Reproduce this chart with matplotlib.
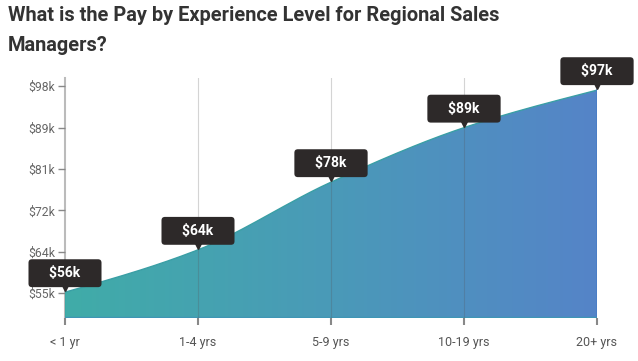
import matplotlib
matplotlib.use('Agg')
import matplotlib.pyplot as plt
import matplotlib.transforms as mtransforms
import numpy as np
from matplotlib.colors import LinearSegmentedColormap

# data
categories = ['< 1 yr', '1-4 yrs', '5-9 yrs', '10-19 yrs', '20+ yrs']
pay_k = [55.6, 64.3, 78.2, 89.4, 97.1]
pay_labels = ['$56k', '$64k', '$78k', '$89k', '$97k']
ytick_vals = [55.4, 63.9, 72.4, 80.9, 89.4, 97.9]
ytick_labels = ['$55k', '$64k', '$72k', '$81k', '$89k', '$98k']

plt.rcParams['font.family'] = ['Roboto', 'DejaVu Sans']


def monotone_curve(x, y, n=40):
    # monotone cubic (Fritsch-Carlson), like d3.curveMonotoneX
    x = np.asarray(x, float)
    y = np.asarray(y, float)
    h = np.diff(x)
    d = np.diff(y) / h
    m = np.zeros_like(y)
    for i in range(1, len(y) - 1):
        if d[i - 1] * d[i] > 0:
            m[i] = (h[i - 1] + h[i]) * 3 / ((2 * h[i] + h[i - 1]) / d[i - 1] + (h[i] + 2 * h[i - 1]) / d[i])
    m[0] = (3 * d[0] - m[1]) / 2
    m[-1] = (3 * d[-1] - m[-2]) / 2
    xs, ys = [], []
    for i in range(len(x) - 1):
        t = np.linspace(0, 1, n)
        h00 = 2 * t**3 - 3 * t**2 + 1
        h10 = t**3 - 2 * t**2 + t
        h01 = -2 * t**3 + 3 * t**2
        h11 = t**3 - t**2
        xs.append(x[i] + t * h[i])
        ys.append(h00 * y[i] + h10 * h[i] * m[i] + h01 * y[i + 1] + h11 * h[i] * m[i + 1])
    return np.concatenate(xs), np.concatenate(ys)


xpos = np.arange(len(categories))
xs, ys = monotone_curve(xpos, pay_k)

fig = plt.figure(figsize=(6.38, 3.61), dpi=100)
ax = fig.add_axes([65 / 638, 1 - 318 / 361, 532 / 638, 240 / 361])
ymin, ymax = 50.3, 99.6
ax.set_xlim(0, 4)
ax.set_ylim(ymin, ymax)

# gradient fill clipped to the area under the curve
cmap = LinearSegmentedColormap.from_list('pay', ['#40aca8', '#4a9ab8', '#5584c8'])
grad = np.linspace(0, 1, 256).reshape(1, -1)
im = ax.imshow(grad, cmap=cmap, aspect='auto', extent=[0, 4, ymin, ymax], zorder=1)
poly = ax.fill_between(xs, ys, ymin, color='none', lw=0)
im.set_clip_path(poly.get_paths()[0], transform=ax.transData)

ax.plot(xs, ys, color='#3a9fa5', lw=1.0, zorder=2)
ax.plot([0, 0], [ymin, pay_k[0]], color='#3aa6a4', lw=1.2, zorder=2)
ax.plot([4, 4], [ymin, pay_k[-1]], color='#4a7ec8', lw=1.2, zorder=2)
ax.plot([0, 4], [ymin + 0.15, ymin + 0.15], color='#3f96b5', lw=1.0, zorder=2)

for xv in xpos[1:]:
    ax.axvline(xv, color='#555555', alpha=0.25, lw=0.8, zorder=3)

for s in ['top', 'right', 'bottom']:
    ax.spines[s].set_visible(False)
ax.spines['left'].set_color('#bbbbbb')
ax.spines['left'].set_linewidth(1.5)
ax.spines['left'].set_zorder(0)

ax.set_yticks(ytick_vals)
ax.set_yticklabels(ytick_labels)
ax.set_xticks(xpos)
ax.set_xticklabels(categories)
ax.tick_params(axis='y', length=5, width=1, color='#888888', labelsize=8.8, labelcolor='#666666', pad=2)
ax.tick_params(axis='x', length=5, width=1.5, color='#888888', labelsize=9, labelcolor='#555555', pad=8)

# value callouts
pointer = ax.transData + mtransforms.ScaledTranslation(0, 5 / 100, fig.dpi_scale_trans)
for xv, yv, lab in zip(xpos, pay_k, pay_labels):
    ax.annotate('    ' + lab + '    ', (xv, yv), xytext=(0, 19), textcoords='offset pixels',
                ha='center', va='center', color='white', fontsize=10, fontweight='bold', zorder=6,
                bbox=dict(boxstyle='round,pad=0.5,rounding_size=0.25', fc='#2d2929', ec='none'))
    ax.plot([xv], [yv], marker='v', ms=5.5, color='#2d2929', zorder=6, clip_on=False, transform=pointer)

fig.text(8 / 638, 1 - 6 / 361, 'What is the Pay by Experience Level for Regional Sales\nManagers?',
         ha='left', va='top', fontsize=14.4, fontweight='bold', color='#333333', linespacing=1.75)

fig.savefig('out.png', dpi=100)
